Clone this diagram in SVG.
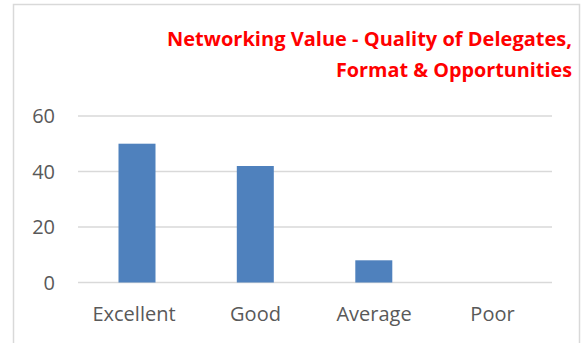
<svg xmlns="http://www.w3.org/2000/svg" width="582" height="343" viewBox="0 0 582 343">
<style>
.frame{fill:none;stroke:#d9d9d9;stroke-width:1.5}
.grid{stroke:#d9d9d9;stroke-width:1.3}
.bar{fill:#4f81bd}
.ax{font-family:"Open Sans","Liberation Sans",sans-serif;font-size:20px;fill:#595959}
.title{font-family:"Open Sans","Liberation Sans",sans-serif;font-weight:bold;font-size:19px;fill:#ff0000}
</style>
<rect x="0" y="0" width="582" height="343" fill="#ffffff"/>
<path class="frame" d="M13.5,343 V4.5 H579.5 V343"/>
<g id="title">
<text class="title" x="572" y="45.7" text-anchor="end" textLength="405" lengthAdjust="spacingAndGlyphs">Networking Value - Quality of Delegates,</text>
<text class="title" x="572" y="76.7" text-anchor="end" textLength="236" lengthAdjust="spacingAndGlyphs">Format &amp; Opportunities</text>
</g>
<g id="gridlines">
<line class="grid" x1="78" y1="116" x2="552" y2="116"/>
<line class="grid" x1="78" y1="171.5" x2="552" y2="171.5"/>
<line class="grid" x1="78" y1="227" x2="552" y2="227"/>
<line class="grid" x1="78" y1="282.5" x2="552" y2="282.5"/>
</g>
<g id="y-axis">
<text class="ax" x="55" y="123.3" text-anchor="end">60</text>
<text class="ax" x="55" y="178.8" text-anchor="end">40</text>
<text class="ax" x="55" y="234.3" text-anchor="end">20</text>
<text class="ax" x="55" y="289.8" text-anchor="end">0</text>
</g>
<g id="bars">
<rect id="bar-excellent" class="bar" x="118.5" y="143.7" width="37" height="138.8"/>
<rect id="bar-good" class="bar" x="236.8" y="166" width="37" height="116.5"/>
<rect id="bar-average" class="bar" x="355.3" y="260.3" width="37" height="22.2"/>
</g>
<g id="x-axis">
<text class="ax" x="134" y="321" text-anchor="middle">Excellent</text>
<text class="ax" x="255.5" y="321" text-anchor="middle">Good</text>
<text class="ax" x="374" y="321" text-anchor="middle">Average</text>
<text class="ax" x="492.5" y="321" text-anchor="middle">Poor</text>
</g>
</svg>
